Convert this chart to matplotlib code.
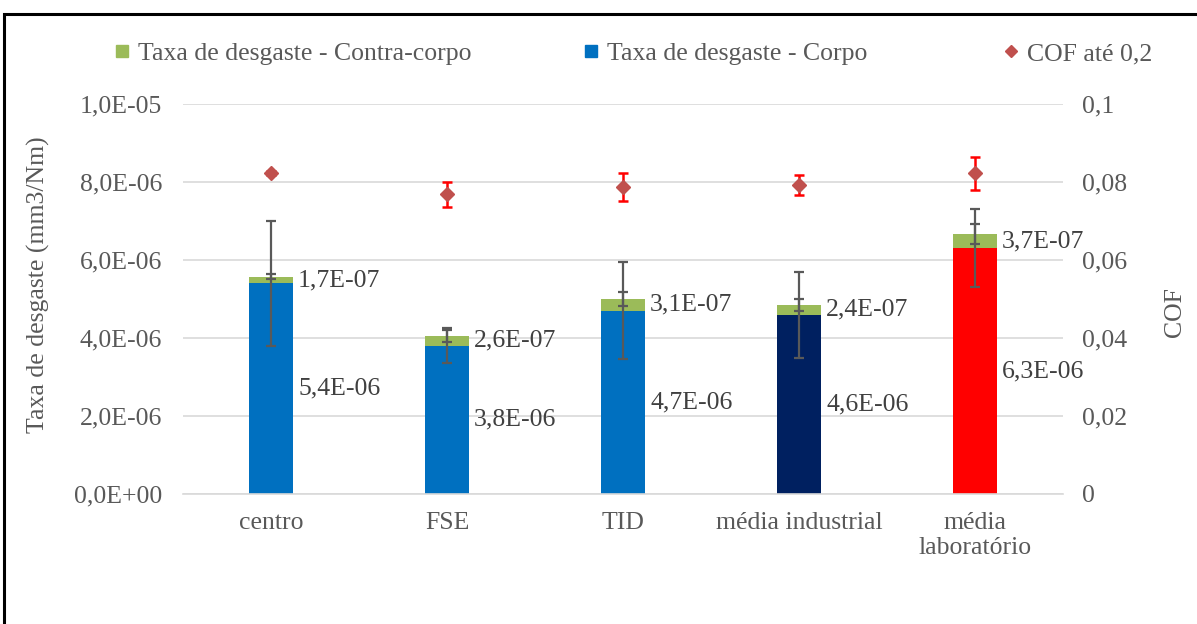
import matplotlib
matplotlib.use("Agg")
import matplotlib.pyplot as plt
from matplotlib.lines import Line2D
from matplotlib.patches import Rectangle
from matplotlib.ticker import FixedLocator

plt.rcParams['font.family'] = ['Liberation Serif', 'DejaVu Serif']

# --- data ---------------------------------------------------------------
categories = ["centro", "FSE", "TID", "média industrial", "média\nlaboratório"]
corpo = [5.4e-06, 3.8e-06, 4.7e-06, 4.6e-06, 6.3e-06]
corpo_err = [1.6e-06, 0.45e-06, 1.24e-06, 1.1e-06, 1.0e-06]
contra = [1.7e-07, 2.6e-07, 3.1e-07, 2.4e-07, 3.7e-07]
contra_err = [0.6e-07, 1.5e-07, 1.8e-07, 1.5e-07, 2.5e-07]
cof = [0.0822, 0.0768, 0.0788, 0.0792, 0.0822]
cof_err = [0.0005, 0.0033, 0.0036, 0.0025, 0.0042]
corpo_labels = ["5,4E-06", "3,8E-06", "4,7E-06", "4,6E-06", "6,3E-06"]
contra_labels = ["1,7E-07", "2,6E-07", "3,1E-07", "2,4E-07", "3,7E-07"]

left_ticks = [0, 2e-06, 4e-06, 6e-06, 8e-06, 1e-05]
left_tick_labels = ["0,0E+00", "2,0E-06", "4,0E-06", "6,0E-06", "8,0E-06", "1,0E-05"]
right_ticks = [0, 0.02, 0.04, 0.06, 0.08, 0.1]
right_tick_labels = ["0", "0,02", "0,04", "0,06", "0,08", "0,1"]

corpo_colors = ["#0070C0", "#0070C0", "#0070C0", "#002060", "#FF0000"]
green = "#9BBB59"
diamond = "#C0504D"
text_grey = "#595959"
label_grey = "#404040"
grid_grey = "#D9D9D9"
FS = 18.5

W, H = 1197, 624
fig = plt.figure(figsize=(W / 100, H / 100), dpi=100)
ax = fig.add_axes([183 / W, 130 / H, 880 / W, 390 / H])
ax2 = ax.twinx()

x = list(range(len(categories)))
bw = 0.245

# stacked bars
ax.bar(x, corpo, width=bw, color=corpo_colors, zorder=2)
ax.bar(x, contra, width=bw, bottom=corpo, color=green, zorder=2)

tops = [c + k for c, k in zip(corpo, contra)]
ax.errorbar(x, corpo, yerr=corpo_err, fmt='none', ecolor=text_grey,
            elinewidth=1.6, capsize=3.6, capthick=1.6, zorder=3)
ax.errorbar(x, tops, yerr=contra_err, fmt='none', ecolor=text_grey,
            elinewidth=1.6, capsize=3.6, capthick=1.6, zorder=3)

# value labels to the right of each segment
for i in x:
    ax.annotate(contra_labels[i], xy=(i + bw / 2, corpo[i] + contra[i] / 2),
                xytext=(4, 0), textcoords='offset points', ha='left', va='center',
                fontsize=FS, color=label_grey, zorder=4)
    ax.annotate(corpo_labels[i], xy=(i + bw / 2, corpo[i] / 2),
                xytext=(4, 0), textcoords='offset points', ha='left', va='center',
                fontsize=FS, color=label_grey, zorder=4)

# COF on the secondary axis
ax2.errorbar(x, cof, yerr=cof_err, fmt='D', color=diamond, ms=7.5,
             ecolor="#FF0000", elinewidth=1.8, capsize=3.6, capthick=1.8, zorder=5)

# axes styling
ax.set_xlim(-0.5, 4.5)
ax.set_ylim(0, 1e-05)
ax2.set_ylim(0, 0.1)
ax.yaxis.set_major_locator(FixedLocator(left_ticks))
ax.set_yticklabels(left_tick_labels)
ax2.yaxis.set_major_locator(FixedLocator(right_ticks))
ax2.set_yticklabels(right_tick_labels)
ax.set_xticks(x)
ax.set_xticklabels(categories, linespacing=1.2)

ax.grid(axis='y', color=grid_grey, lw=1.2, zorder=0)
ax.set_axisbelow(True)
for a in (ax, ax2):
    for s in a.spines.values():
        s.set_visible(False)
ax.spines['bottom'].set_visible(True)
ax.spines['bottom'].set_color(grid_grey)
ax.spines['bottom'].set_linewidth(1.2)

ax.tick_params(axis='y', length=0, pad=15, labelsize=FS, labelcolor=text_grey)
ax2.tick_params(axis='y', length=0, pad=14, labelsize=FS, labelcolor=text_grey)
ax.tick_params(axis='x', length=0, pad=13, labelsize=FS, labelcolor=text_grey)

fig.text(38 / W, 1 - 285 / H, "Taxa de desgaste (mm3/Nm)", rotation=90,
         ha='center', va='center', fontsize=FS, color=text_grey)
fig.text(1175 / W, 1 - 312 / H, "COF", rotation=90,
         ha='center', va='center', fontsize=FS, color=text_grey)

# legend entries laid out along the top
entries = [
    (Line2D([], [], marker='s', ls='none', color=green, ms=8), "Taxa de desgaste - Contra-corpo", 122),
    (Line2D([], [], marker='s', ls='none', color="#0070C0", ms=8), "Taxa de desgaste - Corpo", 591),
    (Line2D([], [], marker='D', ls='none', color=diamond, ms=6.5), "COF até 0,2", 1011),
]
for handle, label, cx in entries:
    fig.legend([handle], [label], loc='center left',
               bbox_to_anchor=((cx - 7) / W, 1 - 54 / H),
               frameon=False, borderpad=0, borderaxespad=0,
               handlelength=0.55, handletextpad=0.35, fontsize=FS,
               labelcolor=text_grey)

# outer frame
fig.add_artist(Rectangle((4 / W, -0.1), 1.2, 1.1 - 14 / H, transform=fig.transFigure,
                         fill=False, edgecolor='black', lw=2.2))

fig.savefig("out.png", dpi=100)
